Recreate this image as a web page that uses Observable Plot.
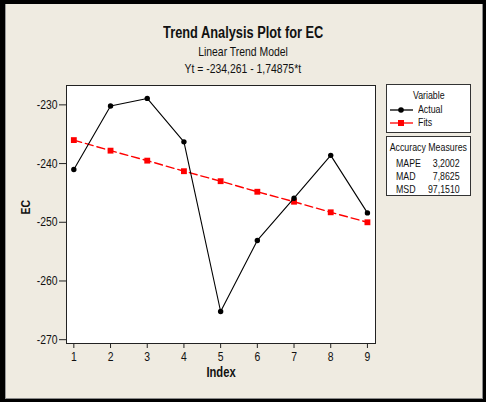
<!DOCTYPE html>
<html>
<head>
<meta charset="utf-8">
<script src="https://cdn.jsdelivr.net/npm/d3@7"></script>
<script src="https://cdn.jsdelivr.net/npm/@observablehq/plot@0.6"></script>
<style>
  html, body { margin: 0; padding: 0; background: #ffffff; }
  #wrap { position: relative; width: 486px; height: 406px; overflow: hidden;
    font-family: "Liberation Sans", Arial, sans-serif; color: #111; }
  #outer { position: absolute; left: 0; top: 0; width: 486px; height: 402px; background: #000; }
  #inner { position: absolute; left: 5px; top: 4px; width: 476px; height: 394px; background: #EFEBE1;
    border-right: 1px solid #8a8a8a; border-bottom: 1px solid #8a8a8a; border-left: 1px solid #9a9a9a; box-sizing: content-box; }
  #plotHolder { position: absolute; left: 0; top: 0; }
  .t { position: absolute; left: 0; width: 486px; text-align: center; white-space: nowrap; }
  .n { display: inline-block; transform: scaleX(0.8); transform-origin: center; }
  #title { top: 24px; font-size: 16px; font-weight: bold; }
  #sub1 { top: 44px; font-size: 13px; }
  #sub2 { top: 61px; font-size: 13px; }
  .box { position: absolute; background: #fff; border: 1px solid #333; box-sizing: border-box; font-size: 11px; }
  #legend { left: 386px; top: 84px; width: 85px; height: 49px; }
  #acc { left: 386px; top: 136px; width: 85px; height: 60px; }
  .row { position: absolute; white-space: nowrap; }
  .ctr { left: -20px; width: 123px; text-align: center; }
  .nl { display: inline-block; transform: scaleX(0.8); transform-origin: left; }
  .nr { display: inline-block; transform: scaleX(0.8); transform-origin: right; }
</style>
</head>
<body>
<div id="wrap">
  <div id="outer"></div>
  <div id="inner"></div>
  <div id="plotHolder"></div>
  <div class="t" id="title"><span class="n">Trend Analysis Plot for EC</span></div>
  <div class="t" id="sub1"><span class="n">Linear Trend Model</span></div>
  <div class="t" id="sub2"><span class="n">Yt = -234,261 - 1,74875*t</span></div>
  <div class="box" id="legend"></div>
  <div class="box" id="acc"></div>
</div>
<script>
// ---- data ----
const index = [1, 2, 3, 4, 5, 6, 7, 8, 9];
const actual = [-241.0, -230.2, -228.9, -236.3, -265.2, -253.1, -245.9, -238.6, -248.4];
const fits = [-236.0, -237.8, -239.5, -241.3, -243.0, -244.8, -246.5, -248.3, -250.0];
const yTicks = [-270, -260, -250, -240, -230];
const xTicks = [1, 2, 3, 4, 5, 6, 7, 8, 9];
const seriesNames = ["Actual", "Fits"];
const seriesColors = ["#000000", "#FF0000"];
const accNames = ["MAPE", "MAD", "MSD"];
const accValues = ["3,2002", "7,8625", "97,1510"];

const actualData = index.map((t, i) => ({t, v: actual[i]}));
const fitsData = index.map((t, i) => ({t, v: fits[i]}));

const chart = Plot.plot({
  width: 486,
  height: 406,
  marginLeft: 66,
  marginRight: 111,
  marginTop: 85,
  marginBottom: 63,
  style: {background: "transparent", fontFamily: "'Liberation Sans', Arial, sans-serif", fontSize: "13px", color: "#111"},
  x: {domain: [0.8, 9.22]},
  y: {domain: [-270.65, -226.7]},
  marks: [
    Plot.frame({fill: "white", stroke: "#222", strokeWidth: 1}),
    Plot.axisX({ticks: xTicks, tickSize: 5, tickPadding: 3, tickFormat: d => String(d), label: null, fontSize: 13, stroke: "#222"}),
    Plot.axisY({ticks: yTicks, tickSize: 7, tickPadding: 2, tickFormat: d => String(d), label: null, fontSize: 13, stroke: "#222"}),
    Plot.text(["Index"], {frameAnchor: "bottom", dy: 33, fontWeight: "bold", fontSize: 14}),
    Plot.text(["EC"], {frameAnchor: "left", dx: -41, rotate: -90, fontWeight: "bold", fontSize: 13}),
    Plot.line(fitsData, {x: "t", y: "v", stroke: seriesColors[1], strokeWidth: 1.4, strokeDasharray: "8,4"}),
    Plot.dot(fitsData, {x: "t", y: "v", symbol: "square", r: 3.3, fill: seriesColors[1], stroke: "none"}),
    Plot.line(actualData, {x: "t", y: "v", stroke: seriesColors[0], strokeWidth: 1.1}),
    Plot.dot(actualData, {x: "t", y: "v", r: 2.7, fill: seriesColors[0], stroke: "none"})
  ]
});
// narrow the text horizontally (Arial Narrow look)
chart.querySelectorAll("text").forEach(el => {
  const tr = el.getAttribute("transform") || "";
  el.setAttribute("transform", (tr + " scale(0.8,1)").trim());
});
document.getElementById("plotHolder").appendChild(chart);

// legend
const leg = document.getElementById("legend");
leg.innerHTML = `<div class="row ctr" style="top:4px"><span class="n">Variable</span></div>`;
seriesNames.forEach((name, i) => {
  const top = 19 + i * 13;
  const sym = i === 0
    ? `<circle cx="11" cy="6" r="2.8" fill="${seriesColors[i]}"/>`
    : `<rect x="8" y="3" width="6" height="6" fill="${seriesColors[i]}"/>`;
  leg.innerHTML += `<svg class="row" style="left:3px;top:${top}px" width="24" height="12"><line x1="0" y1="6" x2="23" y2="6" stroke="${seriesColors[i]}" stroke-width="1.3"/>${sym}</svg>` +
    `<div class="row" style="left:31px;top:${top - 1}px"><span class="nl">${name}</span></div>`;
});
const acc = document.getElementById("acc");
acc.innerHTML = `<div class="row ctr" style="top:4px"><span class="n">Accuracy Measures</span></div>`;
accNames.forEach((n, i) => {
  const top = 20 + i * 13;
  acc.innerHTML += `<div class="row" style="left:9px;top:${top}px"><span class="nl">${n}</span></div>` +
    `<div class="row" style="right:10px;top:${top}px;text-align:right"><span class="nr">${accValues[i]}</span></div>`;
});
</script>
</body>
</html>
